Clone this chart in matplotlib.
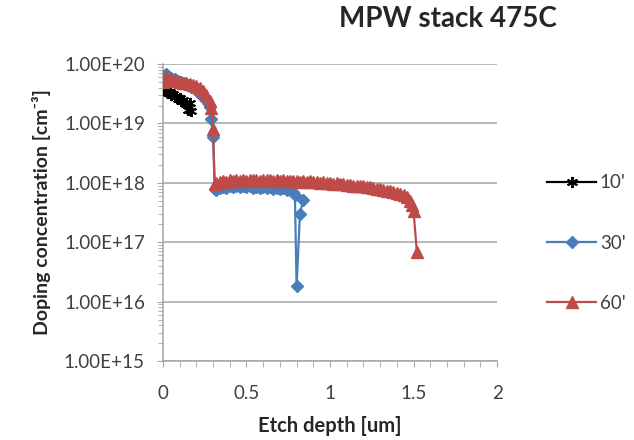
import matplotlib
matplotlib.use("Agg")
import matplotlib.pyplot as plt
from matplotlib.ticker import FixedLocator, LogLocator, MultipleLocator, NullFormatter

plt.rcParams["font.family"] = ["Lato", "DejaVu Sans"]

# %% data
x_10 = [0.00, 0.01, 0.02, 0.03, 0.04, 0.05, 0.06, 0.07, 0.08, 0.09,
        0.10, 0.11, 0.12, 0.13, 0.14, 0.15, 0.16, 0.17]
y_10 = [3.8e19, 3.5e19, 3.7e19, 3.3e19, 3.4e19, 3.0e19, 3.1e19, 2.8e19, 2.9e19, 2.6e19,
        2.7e19, 2.4e19, 2.5e19, 2.2e19, 2.1e19, 1.7e19, 2.2e19, 1.6e19]

x_30 = [0.00, 0.01, 0.02, 0.03, 0.05, 0.07, 0.09, 0.11, 0.13, 0.15,
        0.17, 0.19, 0.21, 0.23, 0.25, 0.27, 0.28, 0.29, 0.30, 0.31,
        0.32, 0.34, 0.36, 0.38, 0.40, 0.42, 0.44, 0.46, 0.48, 0.50,
        0.52, 0.54, 0.56, 0.58, 0.60, 0.62, 0.64, 0.66, 0.68, 0.70,
        0.72, 0.74, 0.76, 0.78, 0.79, 0.80, 0.82, 0.84]
y_30 = [5.5e19, 6.5e19, 6.8e19, 6.2e19, 5.8e19, 5.5e19, 5.2e19, 5.0e19, 4.7e19, 4.4e19,
        4.1e19, 3.8e19, 3.4e19, 3.0e19, 2.6e19, 2.2e19, 1.9e19, 1.2e19, 6.0e18, 8.0e17,
        7.6e17, 8.2e17, 8.6e17, 8.3e17, 8.8e17, 8.4e17, 8.9e17, 8.5e17, 8.8e17, 8.4e17,
        8.7e17, 8.3e17, 8.6e17, 8.2e17, 8.5e17, 8.1e17, 8.4e17, 8.0e17, 8.3e17, 7.9e17,
        8.1e17, 7.7e17, 7.8e17, 7.0e17, 6.2e17, 1.8e16, 3.0e17, 5.2e17]

x_60 = [0.00, 0.01, 0.02, 0.04, 0.06, 0.08, 0.10, 0.12, 0.14, 0.16,
        0.18, 0.20, 0.22, 0.24, 0.26, 0.28, 0.29, 0.30, 0.31, 0.32,
        0.34, 0.36, 0.38, 0.40, 0.42, 0.44, 0.46, 0.48, 0.50, 0.52,
        0.54, 0.56, 0.58, 0.60, 0.62, 0.64, 0.66, 0.68, 0.70, 0.72,
        0.74, 0.76, 0.78, 0.80, 0.82, 0.84, 0.86, 0.88, 0.90, 0.92,
        0.94, 0.96, 0.98, 1.00, 1.02, 1.04, 1.06, 1.08, 1.10, 1.12,
        1.14, 1.16, 1.18, 1.20, 1.22, 1.24, 1.26, 1.28, 1.30, 1.32,
        1.34, 1.36, 1.38, 1.40, 1.42, 1.44, 1.46, 1.48, 1.49, 1.50,
        1.52]
y_60 = [5.0e19, 5.8e19, 6.0e19, 5.5e19, 5.3e19, 5.1e19, 4.9e19, 4.8e19, 4.7e19, 4.6e19,
        4.4e19, 4.2e19, 3.9e19, 3.5e19, 3.0e19, 2.4e19, 1.8e19, 8.0e18, 9.5e17, 1.00e18,
        1.04e18, 1.08e18, 1.05e18, 1.10e18, 1.07e18, 1.11e18, 1.08e18, 1.12e18, 1.09e18, 1.13e18,
        1.10e18, 1.12e18, 1.09e18, 1.13e18, 1.10e18, 1.12e18, 1.09e18, 1.11e18, 1.08e18, 1.10e18,
        1.07e18, 1.09e18, 1.06e18, 1.08e18, 1.05e18, 1.07e18, 1.04e18, 1.06e18, 1.03e18, 1.04e18,
        1.01e18, 1.02e18, 9.9e17, 1.00e18, 9.7e17, 9.8e17, 9.5e17, 9.6e17, 9.3e17, 9.3e17,
        9.0e17, 9.0e17, 8.7e17, 8.7e17, 8.4e17, 8.4e17, 8.1e17, 8.0e17, 7.8e17, 7.6e17,
        7.4e17, 7.2e17, 7.0e17, 6.8e17, 6.5e17, 6.2e17, 5.8e17, 5.0e17, 4.2e17, 3.4e17,
        6.8e16]

labels = ["10'", "30'", "60'"]
y_ticks = [1e15, 1e16, 1e17, 1e18, 1e19, 1e20]
y_ticklabels = ["1.00E+15", "1.00E+16", "1.00E+17", "1.00E+18", "1.00E+19", "1.00E+20"]
x_ticks = [0, 0.5, 1, 1.5, 2]
x_ticklabels = ["0", "0.5", "1", "1.5", "2"]

# %% plot
fig = plt.figure(figsize=(6.34, 4.40), dpi=100)
ax = fig.add_axes([0.257, 0.1795, 0.527, 0.675])

ax.plot(x_10, y_10, color="black", lw=1.6, marker=(6, 2, 0), ms=8, mew=1.4, label=labels[0], zorder=3)
ax.plot(x_30, y_30, color="#4a7ebb", lw=1.6, marker="D", ms=6.5, mec="#4a7ebb", label=labels[1], zorder=4)
ax.plot(x_60, y_60, color="#be4b48", lw=1.6, marker="^", ms=8, mec="#be4b48", label=labels[2], zorder=5)

ax.set_yscale("log")
ax.set_ylim(1e15, 1e20)
ax.set_xlim(0, 2)
ax.yaxis.set_major_locator(FixedLocator(y_ticks))
ax.set_yticklabels(y_ticklabels)
ax.yaxis.set_minor_locator(LogLocator(base=10, subs=range(2, 10), numticks=20))
ax.yaxis.set_minor_formatter(NullFormatter())
ax.set_xticks(x_ticks)
ax.set_xticklabels(x_ticklabels)
ax.xaxis.set_minor_locator(MultipleLocator(0.1))

ax.grid(axis="y", which="major", color="#a6a6a6", lw=1.1)
ax.set_axisbelow(True)
for s in ["top", "right"]:
    ax.spines[s].set_visible(False)
for s in ["left", "bottom"]:
    ax.spines[s].set_color("#a6a6a6")
    ax.spines[s].set_linewidth(1.1)
ax.tick_params(which="both", direction="out", color="#a6a6a6", labelcolor="#404040", labelsize=13.5)
ax.tick_params(which="major", length=4)
ax.tick_params(which="minor", length=3.5)
ax.tick_params(axis="x", which="minor", length=4)
ax.tick_params(axis="y", pad=9)
ax.tick_params(axis="x", pad=13)

ax.set_xlabel("Etch depth [um]", fontsize=14.5, fontweight="bold", color="#262626", labelpad=10)
ax.set_ylabel("Doping concentration [cm⁻³]", fontsize=14, fontweight="bold", color="#262626", labelpad=9)
fig.text(0.706, 0.957, "MPW stack 475C", fontsize=20, fontweight="bold", color="#262626", ha="center", va="center")

ax.legend(loc="center left", bbox_to_anchor=(1.1, 0.397), frameon=False, fontsize=13.5,
          handlelength=2.6, labelspacing=2.3, handletextpad=0.2, labelcolor="#404040")

fig.savefig("out.png", dpi=100)
